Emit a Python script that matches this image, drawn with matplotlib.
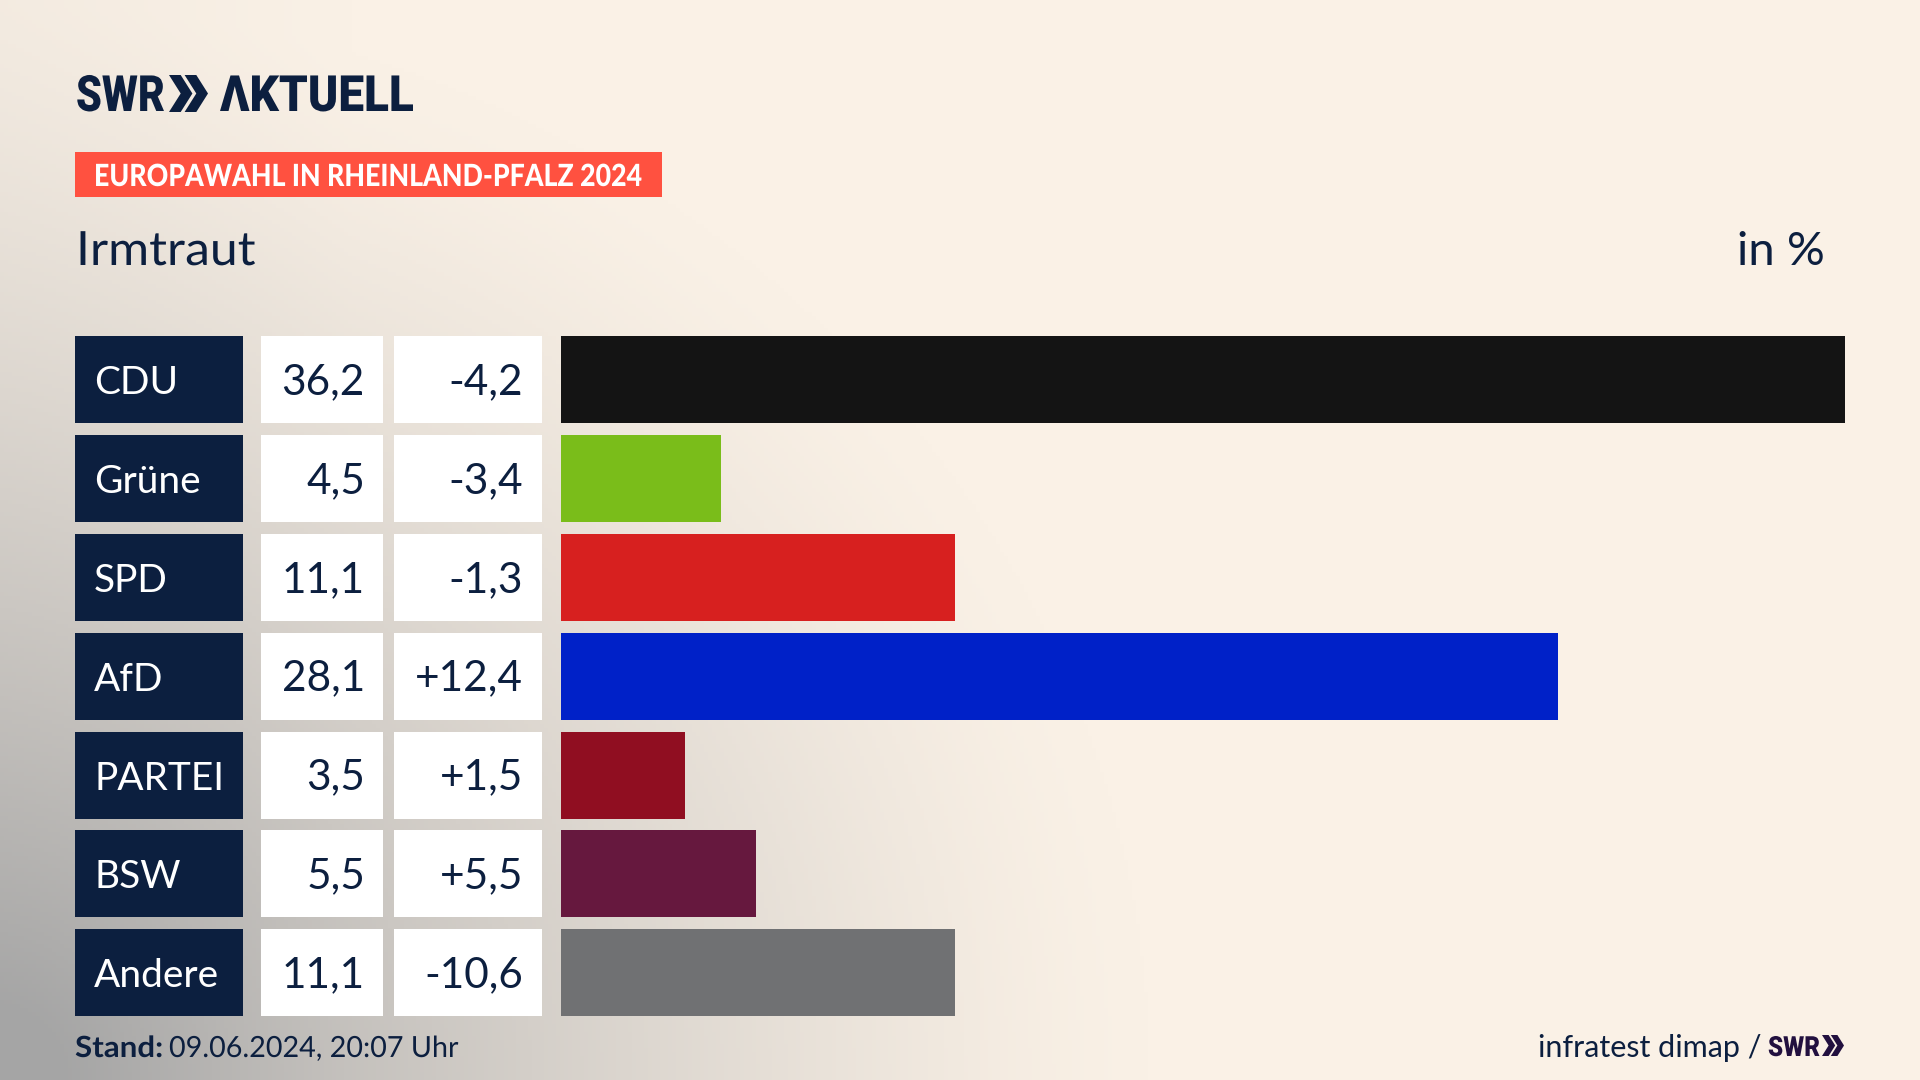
import matplotlib
matplotlib.use("Agg")
import matplotlib.pyplot as plt
from matplotlib.patches import Rectangle, Polygon
from matplotlib.patheffects import AbstractPathEffect
from matplotlib.transforms import Affine2D
import numpy as np

parties = ["CDU", "Grüne", "SPD", "AfD", "PARTEI", "BSW", "Andere"]
shares = [36.2, 4.5, 11.1, 28.1, 3.5, 5.5, 11.1]
changes = ["-4,2", "-3,4", "-1,3", "+12,4", "+1,5", "+5,5", "-10,6"]
colors = ["#141414", "#7abd1a", "#d7201f", "#0021c8", "#900e21", "#66183e", "#707173"]

NAVY = "#0c1f3f"
FONT = "Lato"
LOGO = "Roboto"

W, H = 1920, 1080
ROW_TOP = 336.3
ROW_STEP = 98.8
ROW_H = 87

fig = plt.figure(figsize=(W / 100, H / 100), dpi=100)
renderer = fig.canvas.get_renderer()

# everything except the bars is laid out in pixels
ax = fig.add_axes([0, 0, 1, 1])
ax.set_xlim(0, W)
ax.set_ylim(H, 0)
ax.axis("off")

# grey haze coming out of the bottom left corner, a little along the left edge
xx, yy = np.meshgrid(np.linspace(0, W, 480), np.linspace(0, H, 270))
dist = np.sqrt((xx / 1150) ** 2 + ((H - yy) / 1080) ** 2)
haze = np.clip(1 - dist, 0, 1) ** 1.3 + 0.08 * np.clip(1 - xx / 350, 0, 1)
cream = np.array([250, 241, 230]) / 255
grey = np.array([165, 165, 165]) / 255
bg = cream + (grey - cream) * np.clip(haze, 0, 1)[..., None]
ax.imshow(bg, extent=(0, W, H, 0), aspect="auto", zorder=0)
ax.set_xlim(0, W)
ax.set_ylim(H, 0)


class Squash(AbstractPathEffect):
    # squeeze text sideways, there is no condensed font to use
    def __init__(self, sx, x0):
        super().__init__()
        self.sx = sx
        self.x0 = x0

    def draw_path(self, renderer, gc, tpath, affine, rgbFace=None):
        t = affine + Affine2D().translate(-self.x0, 0).scale(self.sx, 1).translate(self.x0, 0)
        renderer.draw_path(gc, tpath, t, rgbFace)


def fitted(x0, x1, y, s, **kw):
    t = ax.text(x0, y, s, va="baseline", ha="left", **kw)
    box = t.get_window_extent(renderer)
    t.set_path_effects([Squash((x1 - x0) / box.width, x0)])
    return t


def chevrons(x0, x1, top, bottom, color):
    w = (x1 - x0) * 0.6
    tip = w * 0.5
    thick = w - tip
    mid = (top + bottom) / 2
    for off in (0, x1 - x0 - w):
        l = x0 + off
        ax.add_patch(Polygon([(l, top), (l + thick, top), (l + w, mid),
                              (l + thick, bottom), (l, bottom), (l + tip, mid)],
                             color=color, lw=0, zorder=3))


# logo
fitted(76, 165, 111, "SWR", family=LOGO, weight="black", fontsize=36, color=NAVY)
chevrons(169, 208, 75, 112, NAVY)
fitted(220, 414, 111, "ΛKTUELL", family=LOGO, weight="black", fontsize=36, color=NAVY)

# banner
ax.add_patch(Rectangle((75, 152), 587, 45, color="#ff5140", lw=0, zorder=2))
fitted(94, 642, 186, "EUROPAWAHL IN RHEINLAND-PFALZ 2024", family=FONT, weight="black",
       fontsize=22, color="white", zorder=3)

fitted(76, 256, 265, "Irmtraut", family=FONT, fontsize=34, color=NAVY)
ax.text(1825, 265, "in %", family=FONT, fontsize=34, color=NAVY, va="baseline", ha="right")

# table cells
for i, (party, share, change) in enumerate(zip(parties, shares, changes)):
    top = ROW_TOP + i * ROW_STEP
    base = top + 58
    ax.add_patch(Rectangle((75, top), 167.5, ROW_H, color=NAVY, lw=0, zorder=2))
    ax.add_patch(Rectangle((261, top), 122, ROW_H, color="white", lw=0, zorder=2))
    ax.add_patch(Rectangle((394, top), 148, ROW_H, color="white", lw=0, zorder=2))
    ax.text(94, base, party, family=FONT, fontsize=28, color="white", va="baseline", zorder=3)
    ax.text(365, base, f"{share:.1f}".replace(".", ","), family=FONT, fontsize=30.5,
            color=NAVY, va="baseline", ha="right", zorder=3)
    ax.text(523, base, change, family=FONT, fontsize=30.5, color=NAVY,
            va="baseline", ha="right", zorder=3)

# footer
fitted(75, 163, 1057, "Stand:", family=FONT, weight="bold", fontsize=21, color=NAVY)
fitted(169, 458, 1057, "09.06.2024, 20:07 Uhr", family=FONT, fontsize=21, color=NAVY)
ax.text(1761, 1057, "infratest dimap /", family=FONT, fontsize=22, color=NAVY,
        va="baseline", ha="right")
fitted(1768, 1820, 1056, "SWR", family=LOGO, weight="black", fontsize=20, color="#22103f")
chevrons(1822, 1844, 1035, 1056, "#22103f")

# bars, on their own axes so the value scale does the work
n = len(parties)
bar_top = ROW_TOP - (ROW_STEP - ROW_H) / 2
bar_span = ROW_STEP * n
bax = fig.add_axes([561 / W, 1 - (bar_top + bar_span) / H, 1284 / W, bar_span / H])
bax.barh(range(n), shares, height=ROW_H / ROW_STEP, color=colors)
bax.set_xlim(0, max(shares))
bax.set_ylim(n - 0.5, -0.5)
bax.axis("off")

fig.savefig("out.png", dpi=100)
